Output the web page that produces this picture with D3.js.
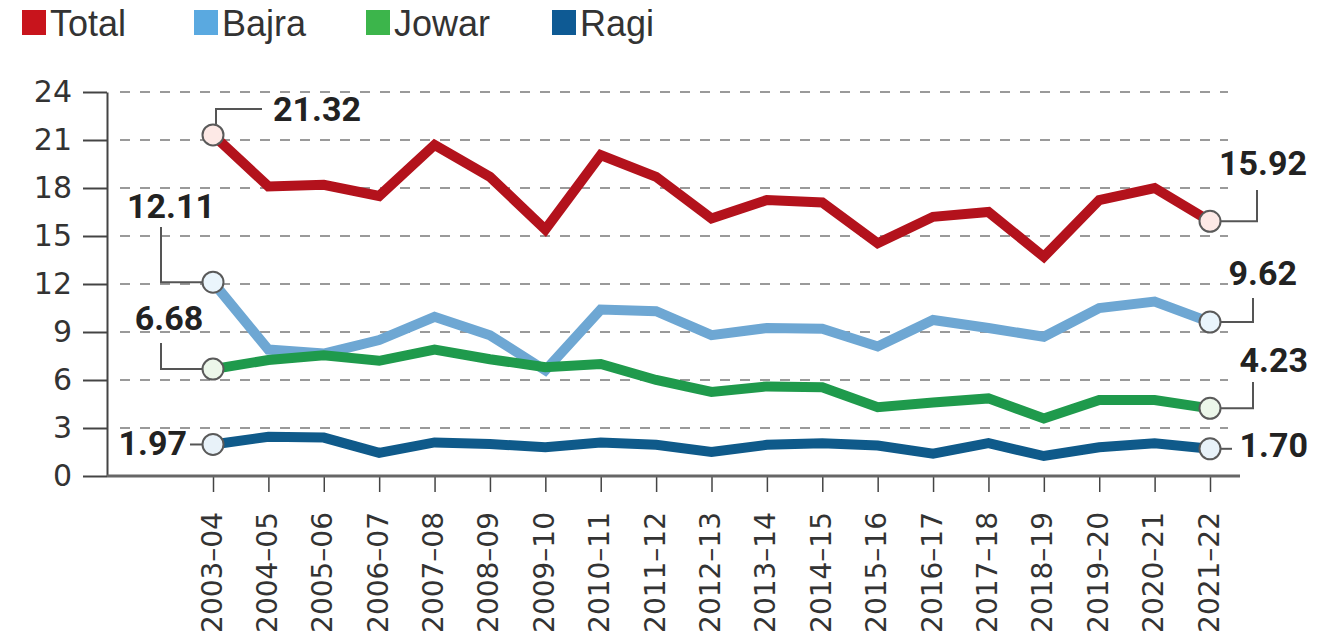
<!DOCTYPE html>
<html>
<head>
<meta charset="utf-8">
<script src="https://cdn.jsdelivr.net/npm/d3@7"></script>
<style>
  html, body { margin: 0; padding: 0; background: #fff; }
  svg { display: block; }
</style>
</head>
<body>
<div id="chart"></div>
<script>
// millet chart: Total / Bajra / Jowar / Ragi
const years = [
    "2003–04", "2004–05", "2005–06", "2006–07", "2007–08", "2008–09", "2009–10",
    "2010–11", "2011–12", "2012–13", "2013–14", "2014–15", "2015–16", "2016–17",
    "2017–18", "2018–19", "2019–20", "2020–21", "2021–22",
];
const total = [21.32, 18.1, 18.2, 17.5, 20.7, 18.7, 15.4, 20.06, 18.7, 16.1, 17.25, 17.1, 14.55, 16.2, 16.5, 13.7, 17.25, 18.0, 15.92];
const bajra = [12.11, 7.9, 7.65, 8.5, 9.95, 8.8, 6.6, 10.4, 10.3, 8.8, 9.25, 9.2, 8.1, 9.75, 9.25, 8.7, 10.5, 10.9, 9.62];
const jowar = [6.68, 7.25, 7.55, 7.2, 7.9, 7.3, 6.8, 7.0, 6.0, 5.25, 5.6, 5.55, 4.3, 4.6, 4.85, 3.6, 4.75, 4.75, 4.23];
const ragi  = [1.97, 2.45, 2.4, 1.45, 2.1, 2.0, 1.8, 2.1, 1.95, 1.5, 1.95, 2.05, 1.9, 1.4, 2.05, 1.25, 1.8, 2.05, 1.70];
const yTicks = [0, 3, 6, 9, 12, 15, 18, 21, 24];

const series = [
    { name: "Total", values: total, color: "#b3121c", key: "#c8141c", pale: "#fde9e6" },
    { name: "Bajra", values: bajra, color: "#6ea7d3", key: "#5aa9e0", pale: "#eaf5fc" },
    { name: "Jowar", values: jowar, color: "#1f9a4c", key: "#3cb54b", pale: "#ecf7ea" },
    { name: "Ragi",  values: ragi,  color: "#0f5a8a", key: "#0e5a94", pale: "#e8f2f9" },
];

const width = 1321, height = 638;
const svg = d3.select("#chart").append("svg")
    .attr("width", width).attr("height", height);

const x = d3.scalePoint().domain(years).range([213, 1210]);
const y = d3.scaleLinear().domain([0, 24]).range([476, 92]);

// legend
const legendPos = [22, 194, 366, 552];
const legend = svg.append("g");
series.forEach((s, i) => {
    legend.append("rect")
        .attr("x", legendPos[i]).attr("y", 10)
        .attr("width", 24).attr("height", 25)
        .attr("fill", s.key);
    legend.append("text")
        .attr("x", legendPos[i] + 28).attr("y", 36)
        .attr("font-family", "Liberation Sans, Arial, sans-serif")
        .attr("font-size", 36)
        .attr("fill", "#333")
        .text(s.name);
});

// dashed grid
svg.append("g")
    .selectAll("line")
    .data(yTicks.filter(d => d > 0))
    .join("line")
    .attr("x1", 120).attr("x2", 1228)
    .attr("y1", d => y(d)).attr("y2", d => y(d))
    .attr("stroke", "#9a9a9a")
    .attr("stroke-width", 2)
    .attr("stroke-dasharray", "10 10");

// y axis
const yAxis = svg.append("g")
    .attr("transform", "translate(107,0)")
    .call(d3.axisLeft(y).tickValues(yTicks).tickSize(24).tickSizeOuter(0).tickPadding(11));
yAxis.select(".domain").attr("stroke", "#444").attr("stroke-width", 2);
yAxis.selectAll(".tick line").attr("stroke", "#444").attr("stroke-width", 2);
yAxis.selectAll(".tick text")
    .attr("font-family", "DejaVu Sans, sans-serif")
    .attr("font-size", 30)
    .attr("fill", "#333");

// x axis
const xAxis = svg.append("g")
    .attr("transform", "translate(0,476)")
    .call(d3.axisBottom(x).tickSize(16).tickSizeOuter(0));
xAxis.select(".domain").remove();
xAxis.selectAll(".tick line").attr("stroke", "#444").attr("stroke-width", 1.5);
xAxis.selectAll(".tick text")
    .attr("font-family", "DejaVu Sans, sans-serif")
    .attr("font-size", 28)
    .attr("fill", "#333")
    .attr("text-anchor", "end")
    .attr("dy", null)
    .attr("y", null)
    .attr("transform", "translate(8,36) rotate(-90)");
svg.append("line")
    .attr("x1", 107).attr("x2", 1240)
    .attr("y1", 476).attr("y2", 476)
    .attr("stroke", "#666").attr("stroke-width", 3);

// lines
const line = d3.line()
    .x((d, i) => x(years[i]))
    .y(d => y(d));

svg.append("g")
    .selectAll("path")
    .data(series)
    .join("path")
    .attr("d", d => line(d.values))
    .attr("fill", "none")
    .attr("stroke", d => d.color)
    .attr("stroke-width", 10)
    .attr("stroke-linejoin", "miter");

// end annotations
const last = years.length - 1;
const notes = [
    { s: 0, i: 0,    path: (cx, cy) => `M${cx + 3},${cy - 11}V109H262`, tx: 273, ty: 121, anchor: "start" },
    { s: 1, i: 0,    path: (cx, cy) => `M${cx - 11},${cy}H161V227`, tx: 171, ty: 218, anchor: "middle" },
    { s: 2, i: 0,    path: (cx, cy) => `M${cx - 11},${cy}H161V343`, tx: 169, ty: 330, anchor: "middle" },
    { s: 3, i: 0,    path: (cx, cy) => `M${cx - 11},${cy}H190`, tx: 187, ty: 455, anchor: "end" },
    { s: 0, i: last, path: (cx, cy) => `M${cx + 11},${cy}H1257V190`, tx: 1307, ty: 175, anchor: "end" },
    { s: 1, i: last, path: (cx, cy) => `M${cx + 11},${cy}H1253V298`, tx: 1297, ty: 285, anchor: "end" },
    { s: 2, i: last, path: (cx, cy) => `M${cx + 11},${cy}H1253V382`, tx: 1308, ty: 372, anchor: "end" },
    { s: 3, i: last, path: (cx, cy) => `M${cx + 11},${cy}H1232`, tx: 1308, ty: 457, anchor: "end" },
];

const ann = svg.append("g");
notes.forEach(n => {
    const s = series[n.s];
    const v = s.values[n.i];
    const cx = x(years[n.i]), cy = y(v);
    ann.append("path")
        .attr("d", n.path(cx, cy))
        .attr("fill", "none")
        .attr("stroke", "#555")
        .attr("stroke-width", 2);
    ann.append("circle")
        .attr("cx", cx).attr("cy", cy).attr("r", 10.5)
        .attr("fill", s.pale)
        .attr("stroke", "#5a5a5a")
        .attr("stroke-width", 2);
    ann.append("text")
        .attr("x", n.tx).attr("y", n.ty)
        .attr("text-anchor", n.anchor)
        .attr("font-family", "Roboto, sans-serif")
        .attr("font-weight", 700)
        .attr("font-size", 34)
        .attr("fill", "#222")
        .text(d3.format(".2f")(v));
});
</script>
</body>
</html>
